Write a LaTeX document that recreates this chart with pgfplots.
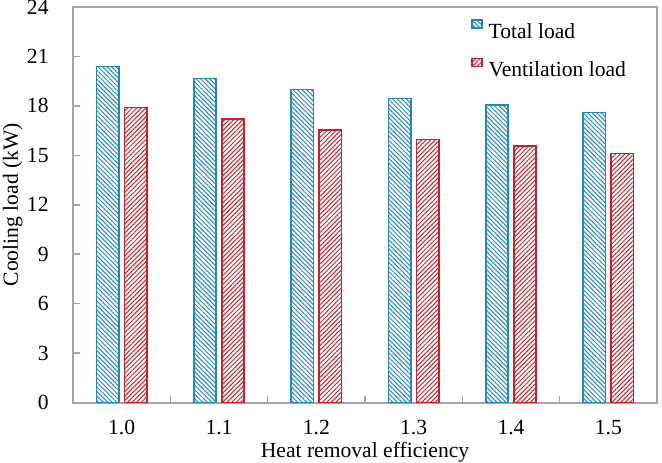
\documentclass[border=0pt]{standalone}
\usepackage{fontspec}
\setmainfont{Liberation Serif}
\usepackage{pgfplots}
\pgfplotsset{compat=1.18}
\usetikzlibrary{patterns.meta}
\definecolor{bblue}{RGB}{35,135,200}
\definecolor{rred}{RGB}{200,35,45}
\definecolor{axgray}{RGB}{165,165,165}
\pgfplotsset{sqlegend/.style={legend image code/.code={\draw[##1, line width=0.6pt] (0pt,2.6pt) rectangle (5pt,6.6pt);}}}
\begin{document}
\fontsize{10.8}{13}\selectfont
\begin{tikzpicture}
\begin{axis}[
  scale only axis, width=292pt, height=197.75pt,
  xmin=-0.5, xmax=5.5, ymin=0, ymax=24,
  ybar=2.75pt, bar width=11.25pt,
  xtick={0,1,2,3,4,5}, xticklabels={1.0,1.1,1.2,1.3,1.4,1.5},
  minor xtick={0.5,1.5,2.5,3.5,4.5},
  ytick={0,3,...,24},
  tick align=inside, tick pos=left,
  major tick length=3.5pt, minor tick length=3.5pt,
  tick style={draw=axgray, line width=0.8pt},
  major x tick style={draw=none},
  axis line style={draw=axgray, line width=1pt},
  /pgf/number format/assume math mode=true,
  ticklabel style={font=\fontsize{10.8}{13}\selectfont},
  yticklabel style={anchor=east, inner sep=0pt, xshift=-12pt},
  xticklabel style={anchor=north, inner sep=0pt, yshift=-8.75pt},
  xlabel={Heat removal efficiency},
  ylabel={Cooling load (kW)},
  xlabel style={at={(axis description cs:0.5,-0.1386)}, anchor=base, inner sep=0pt, font=\fontsize{10.8}{13}\selectfont},
  ylabel style={at={(axis description cs:-0.0942,0.5)}, anchor=base, inner sep=0pt, font=\fontsize{10.8}{13}\selectfont},
  legend style={draw=none, fill=none, at={(axis description cs:0.6815,0.9697)}, anchor=north west,
    inner sep=0pt, row sep=7pt, column sep=3pt,
    nodes={inner sep=0pt, text height=8pt, text depth=2.5pt, font=\fontsize{10.8}{13}\selectfont}},
  legend cell align=left,
]
\addplot[draw=bblue, line width=0.8pt,
  pattern={Lines[angle=-45,distance=1.6pt,line width=0.5pt]}, pattern color=bblue, sqlegend]
  coordinates {(0,20.38) (1,19.67) (2,19.00) (3,18.46) (4,18.07) (5,17.61)};
\addplot[draw=rred, line width=0.8pt,
  pattern={Lines[angle=45,distance=1.6pt,line width=0.5pt]}, pattern color=rred, sqlegend]
  coordinates {(0,17.89) (1,17.20) (2,16.52) (3,15.97) (4,15.55) (5,15.12)};
\legend{Total load, Ventilation load}
\end{axis}
\pgfresetboundingbox
\path[use as bounding box] (-36.5pt,-29.75pt) rectangle (294.5pt,201.25pt);
\end{tikzpicture}
\end{document}
